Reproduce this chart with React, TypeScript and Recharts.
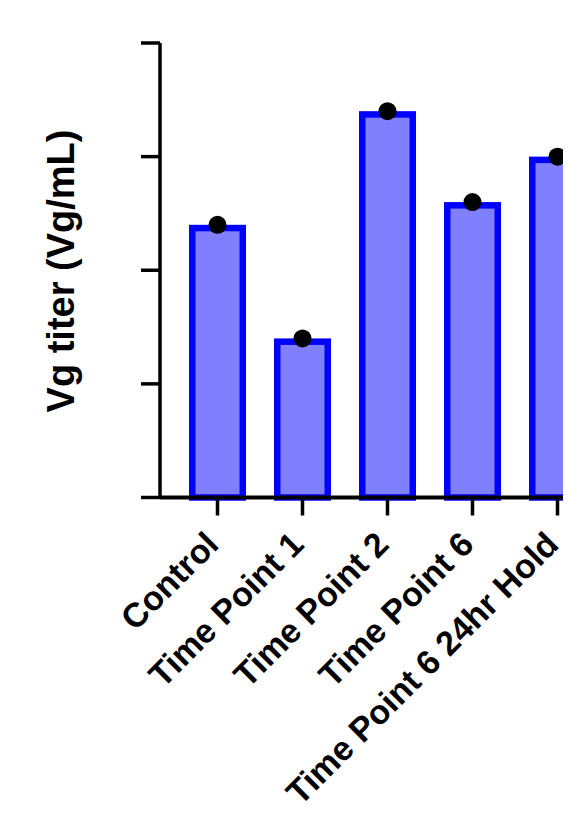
import React from 'react';
import { ComposedChart, Bar, Line, XAxis, YAxis } from 'recharts';

const categories = ['Control', 'Time Point 1', 'Time Point 2', 'Time Point 6', 'Time Point 6 24hr Hold'];
const titerValues = [2.4, 1.4, 3.4, 2.6, 3.0];
const yTicks = [0, 1, 2, 3, 4];

const data = categories.map((name, i) => ({ name, value: titerValues[i] }));

const FONT = '"Liberation Sans", Arial, Helvetica, sans-serif';
const SW = 6.5;

const BarShape = (props: any) => {
  const { x, y, width, height } = props;
  const h = SW / 2;
  return (
    <rect
      x={x + h}
      y={y + h}
      width={Math.max(0, width - SW)}
      height={Math.max(0, height - h)}
      fill="#8080FF"
      stroke="#0000FF"
      strokeWidth={SW}
    />
  );
};

const XTick = (props: any) => {
  const { x, y, payload } = props;
  return (
    <g transform={`translate(${x + 3},${y + 29})`}>
      <text
        textAnchor="end"
        transform="rotate(-45)"
        fontFamily={FONT}
        fontWeight="bold"
        fontSize={34}
        fill="#000"
      >
        {payload.value}
      </text>
    </g>
  );
};

const YLabel = () => (
  <text
    x={66}
    y={263}
    transform="rotate(-90, 66, 263)"
    textAnchor="middle"
    fontFamily={FONT}
    fontWeight="bold"
    fontSize={38}
    fill="#000"
  >
    Vg titer (Vg/mL)
  </text>
);

export default function App() {
  return (
    <div style={{ width: 563, overflow: 'hidden' }}>
      <ComposedChart
        width={620}
        height={800}
        data={data}
        margin={{ top: 35, right: 13, bottom: 10, left: 0 }}
      >
        <XAxis
          dataKey="name"
          type="category"
          height={300.5}
          padding={{ left: 15, right: 15 }}
          axisLine={{ stroke: '#000', strokeWidth: 4 }}
          tickLine={{ stroke: '#000', strokeWidth: 3.5 }}
          tickSize={18}
          interval={0}
          tick={<XTick />}
        />
        <YAxis
          width={152}
          domain={[0, 4]}
          ticks={yTicks}
          axisLine={{ stroke: '#000', strokeWidth: 3.5 }}
          tickLine={{ stroke: '#000', strokeWidth: 3.5 }}
          tickSize={19}
          tickFormatter={() => ''}
          label={<YLabel />}
        />
        <Bar dataKey="value" barSize={57} shape={<BarShape />} isAnimationActive={false} />
        <Line
          dataKey="value"
          stroke="none"
          dot={{ r: 9, fill: '#000', stroke: 'none' }}
          activeDot={false}
          isAnimationActive={false}
        />
      </ComposedChart>
    </div>
  );
}
